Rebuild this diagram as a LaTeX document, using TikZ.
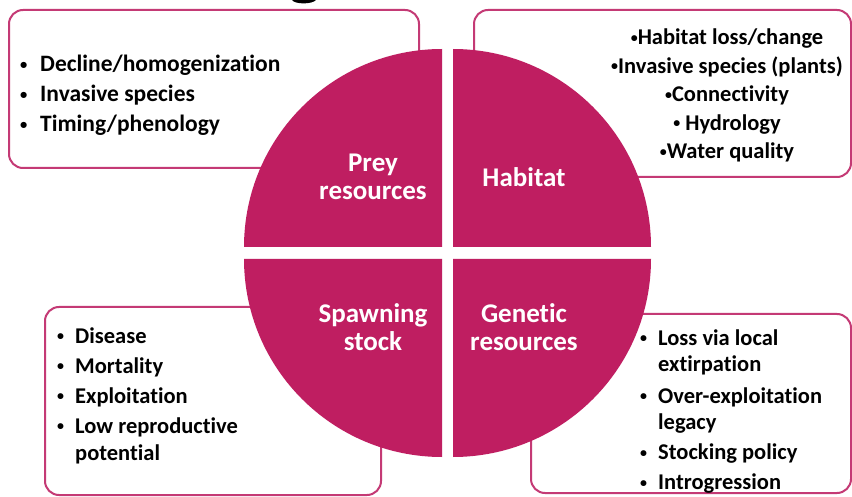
\documentclass[tikz,border=0pt]{standalone}
\usepackage{fontspec}
\setmainfont{Carlito}[Ligatures=NoCommon]
\definecolor{mag}{RGB}{191,30,97}
\definecolor{boxline}{RGB}{196,58,117}
\newcommand\bul{\raisebox{0.12em}{\scalebox{0.62}{•}}}
\begin{document}
\begin{tikzpicture}[x=1pt,y=-1pt,
  infobox/.style={draw=boxline,line width=2pt,rounded corners=14pt},
  quad/.style={fill=mag},
  lbl/.style={text=white,font=\bfseries\fontsize{27}{28}\selectfont,inner sep=0pt,align=center},
  blist/.style={inner sep=0pt,anchor=base west,font=\bfseries\fontsize{23.5}{30}\selectfont},
  clist/.style={inner sep=0pt,anchor=base,font=\bfseries\fontsize{22.5}{28.5}\selectfont}]
\useasboundingbox (0,0) rectangle (852,497);
\fill[white] (0,0) rectangle (852,497);
% title remnant (bottom of a cut-off letter)
\fill[black] (292,0) .. controls (295,4.5) and (312,4.5) .. (316,0) -- cycle;
% boxes
\draw[infobox] (9,10) rectangle (419,168);
\draw[infobox] (474,10) rectangle (851,177);
\draw[infobox] (45,307) rectangle (381,495);
\draw[infobox] (531,314) rectangle (851,493);
% quadrants
\fill[quad] (442,247) -- ++(-198,0) arc[start angle=180,end angle=270,radius=198] -- cycle;
\fill[quad] (453,247) -- ++(198,0) arc[start angle=0,end angle=-90,radius=198] -- cycle;
\fill[quad] (442,259) -- ++(-198,0) arc[start angle=180,end angle=90,radius=198] -- cycle;
\fill[quad] (453,259) -- ++(198,0) arc[start angle=0,end angle=90,radius=198] -- cycle;
% labels (base = baseline of last line)
\node[lbl,anchor=base] (prey) at (373,200) {Prey\\resources};
\node[lbl,anchor=base] (hab) at (524,187) {Habitat};
\node[lbl,anchor=base] (spawn) at (373,350) {Spawning\\stock};
\node[lbl,anchor=base] (gen) at (524,350) {Genetic\\resources};
% lists
\node[blist] (tl) at (20,72) {\begin{tabular}[t]{@{}l@{}l@{}}
\makebox[20pt][l]{\bul} & Decline/homogenization\\
\bul & Invasive species\\
\bul & Timing/phenology
\end{tabular}};
\node[clist] (tr) at (727,45) {\begin{tabular}[t]{@{}c@{}}
\bul Habitat loss/change\\
\bul Invasive species (plants)\\
\bul Connectivity\\
\bul\ Hydrology\\
\bul Water quality
\end{tabular}};
\node[blist,font=\bfseries\fontsize{22.5}{27}\selectfont] (bl) at (57,343) {\begin{tabular}[t]{@{}l@{}l@{}}
\makebox[18pt][l]{\bul} & Disease\\[3.5pt]
\bul & Mortality\\[3pt]
\bul & Exploitation\\[3pt]
\bul & Low reproductive\\
 & potential
\end{tabular}};
\node[blist,font=\bfseries\fontsize{22.5}{26}\selectfont] (br) at (640,345) {\begin{tabular}[t]{@{}l@{}l@{}}
\makebox[18pt][l]{\bul} & Loss via local\\
 & extirpation\\[6pt]
\bul & Over-exploitation\\
 & legacy\\[5pt]
\bul & Stocking policy\\[4pt]
\bul & Introgression
\end{tabular}};
\end{tikzpicture}
\end{document}
